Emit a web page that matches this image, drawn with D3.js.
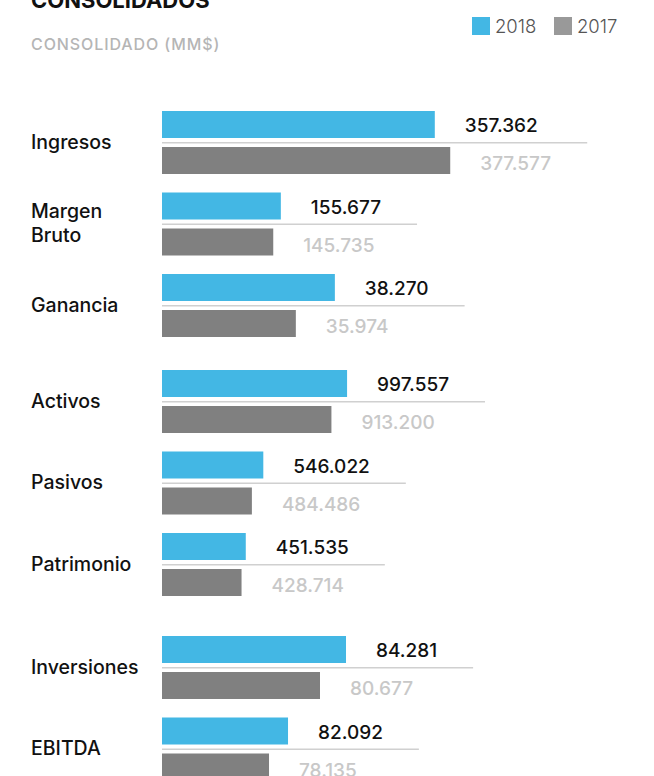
<!DOCTYPE html>
<html>
<head>
<meta charset="utf-8">
<script src="https://cdn.jsdelivr.net/npm/d3@7"></script>
<style>
  body { margin: 0; background: #fff; }
  svg text { font-family: Inter, "Noto Sans", sans-serif; }
</style>
</head>
<body>
<div id="chart"></div>
<script>
// data, in MM$
var categories = ["Ingresos", "Margen Bruto", "Ganancia", "Activos", "Pasivos", "Patrimonio", "Inversiones", "EBITDA"];
var sections = [0, 0, 0, 1, 1, 1, 2, 2];
var years = ["2018", "2017"];
var values2018 = [357362, 155677, 38270, 997557, 546022, 451535, 84281, 82092];
var values2017 = [377577, 145735, 35974, 913200, 484486, 428714, 80677, 78135];
// every row has its own scale in the original
var axisMin = [0, 0, 28100, 0, 0, 0, 58775, 55850];
var axisMax = [393000, 393000, 45750, 1617000, 1617000, 1617000, 100360, 118320];

var colors = { "2018": "#43b7e4", "2017": "#808080" };
var legendColors = { "2018": "#43b7e4", "2017": "#999999" };

var svgWidth = 654;
var svgHeight = 776;

var barLeft = 162;
var barSpan = 300;
var barHeight = 27;
var rowTop = 111;
var rowStep = 81.5;
// extra space before each block of rows
var sectionOffset = [0, 14.5, 36];

var es = d3.formatLocale({ decimal: ",", thousands: ".", grouping: [3], currency: ["$", ""] });
var fmt = es.format(",d");

var svg = d3.select("#chart")
  .append("svg")
  .attr("width", svgWidth)
  .attr("height", svgHeight);

// title, cut by the top edge like in the source
svg.append("text")
  .attr("x", 31)
  .attr("y", 8)
  .attr("font-size", "22px")
  .attr("font-weight", 700)
  .attr("fill", "#111")
  .text("CONSOLIDADOS");

svg.append("text")
  .attr("x", 31)
  .attr("y", 50)
  .attr("font-size", "16px")
  .attr("font-weight", 500)
  .attr("letter-spacing", "0.9px")
  .attr("fill", "#b5b5b5")
  .text("CONSOLIDADO (MM$)");

// legend
var legend = svg.selectAll(".legend")
  .data(years)
  .enter()
  .append("g")
  .attr("class", "legend")
  .attr("transform", (d, i) => `translate(${472 + i * 82}, 17)`);

legend.append("rect")
  .attr("width", 18)
  .attr("height", 18)
  .attr("fill", d => legendColors[d]);

legend.append("text")
  .attr("x", 23)
  .attr("y", 15.5)
  .attr("font-size", "18.5px")
  .attr("font-weight", 300)
  .attr("fill", "#555")
  .text(d => d);

// rows
var y = d3.scaleBand()
  .domain(categories)
  .range([rowTop, rowTop + rowStep * categories.length]);

categories.forEach(function(cat, i) {
  var x = d3.scaleLinear()
    .domain([axisMin[i], axisMax[i]])
    .range([barLeft, barLeft + barSpan]);

  var row = svg.append("g")
    .attr("transform", `translate(0, ${y(cat) + sectionOffset[sections[i]]})`);

  // category label, split on spaces
  var words = cat.split(" ");
  var label = row.append("text")
    .attr("x", 31)
    .attr("font-size", "19.5px")
    .attr("font-weight", 500)
    .attr("fill", "#111");
  words.forEach(function(w, j) {
    label.append("tspan")
      .attr("x", 31)
      .attr("y", 37.5 + (j - (words.length - 1) / 2) * 23.4)
      .text(w);
  });

  var line = row.append("line")
    .attr("x1", barLeft)
    .attr("y1", 31.7)
    .attr("y2", 31.7)
    .attr("stroke", "#d0d0d0")
    .attr("stroke-width", 1.5);

  var rows = [
    { year: "2018", value: values2018[i], top: 0, textY: 21, fill: "#111" },
    { year: "2017", value: values2017[i], top: 36, textY: 59, fill: "#c8c8c8" }
  ];

  row.selectAll("rect")
    .data(rows)
    .enter()
    .append("rect")
    .attr("x", barLeft)
    .attr("y", d => d.top)
    .attr("width", d => x(d.value) - barLeft)
    .attr("height", barHeight)
    .attr("fill", d => colors[d.year]);

  var nums = row.selectAll(".num")
    .data(rows)
    .enter()
    .append("text")
    .attr("class", "num")
    .attr("x", d => x(d.value) + 30)
    .attr("y", d => d.textY)
    .attr("font-size", "19px")
    .attr("font-weight", 500)
    .attr("fill", d => d.fill)
    .text(d => fmt(d.value));

  // the rule runs a little past the longer number
  var rightEdge = 0;
  nums.each(function() {
    var b = this.getBBox();
    rightEdge = Math.max(rightEdge, b.x + b.width);
  });
  line.attr("x2", rightEdge + 36);
});
</script>
</body>
</html>
